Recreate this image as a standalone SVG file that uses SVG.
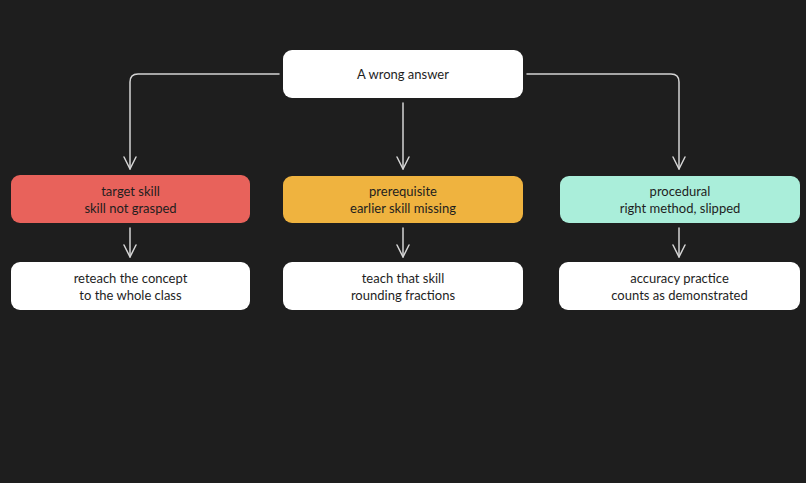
<svg xmlns="http://www.w3.org/2000/svg" width="806" height="483" viewBox="0 0 806 483">
<defs>
<style>
.bg{fill:#1e1e1e}
.box{stroke:none}
.w{fill:#ffffff}
.r{fill:#e8625b}
.y{fill:#efb33f}
.g{fill:#aaeeda}
text{font-family:"Lato","Noto Sans",sans-serif;font-size:13px;fill:#1e1e1e;text-anchor:middle}
.c{fill:none;stroke:#d4d4d4;stroke-width:1.5;stroke-linecap:round;stroke-linejoin:round}
</style>
</defs>
<rect class="bg" width="806" height="483"/>
<g id="connectors">
<path class="c" d="M279 74 H138 Q130 74 130 82 V169"/>
<path class="c" d="M124 157 L130 169 L136 157"/>
<path class="c" d="M403 103 V169"/>
<path class="c" d="M397 157 L403 169 L409 157"/>
<path class="c" d="M527 74 H671 Q679 74 679 82 V169"/>
<path class="c" d="M673 157 L679 169 L685 157"/>
<path class="c" d="M130 228 V257"/>
<path class="c" d="M124 245 L130 257 L136 245"/>
<path class="c" d="M403 228 V257"/>
<path class="c" d="M397 245 L403 257 L409 245"/>
<path class="c" d="M679 228 V257"/>
<path class="c" d="M673 245 L679 257 L685 245"/>
</g>
<g id="root"><rect class="box w" x="283" y="50" width="240" height="48" rx="9"/><text x="403" y="78.5">A wrong answer</text></g>
<g id="target"><rect class="box r" x="11" y="175" width="239" height="48" rx="9"/><text x="130.5" y="196">target skill</text><text x="130.5" y="213">skill not grasped</text></g>
<g id="prereq"><rect class="box y" x="283" y="176" width="240" height="47" rx="9"/><text x="403" y="196">prerequisite</text><text x="403" y="213">earlier skill missing</text></g>
<g id="procedural"><rect class="box g" x="560" y="176" width="240" height="47" rx="9"/><text x="680" y="196">procedural</text><text x="680" y="213">right method, slipped</text></g>
<g id="reteach"><rect class="box w" x="11" y="262" width="239" height="48" rx="9"/><text x="130.5" y="283">reteach the concept</text><text x="130.5" y="300">to the whole class</text></g>
<g id="teach"><rect class="box w" x="283" y="262" width="240" height="48" rx="9"/><text x="403" y="283">teach that skill</text><text x="403" y="300">rounding fractions</text></g>
<g id="accuracy"><rect class="box w" x="559" y="262" width="241" height="48" rx="9"/><text x="679.5" y="283">accuracy practice</text><text x="679.5" y="300">counts as demonstrated</text></g>
</svg>
